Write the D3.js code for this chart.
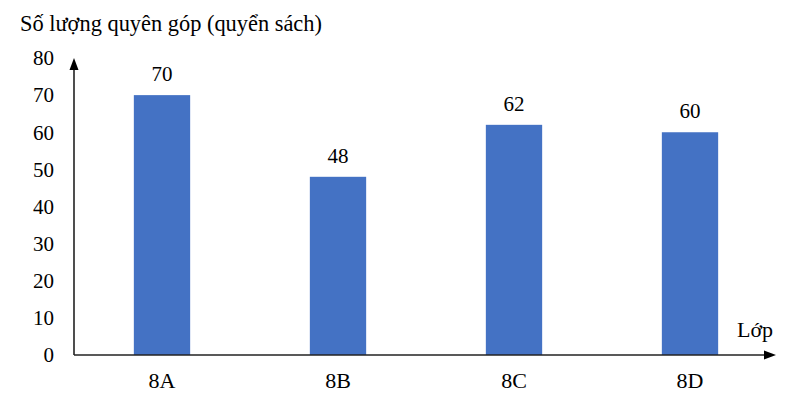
<!DOCTYPE html>
<html><head><meta charset="utf-8">
<script src="https://cdn.jsdelivr.net/npm/d3@7"></script>
<style>body{margin:0;background:#fff}svg{display:block}text{font-family:"Liberation Serif","Times New Roman",serif;fill:#000}</style>
</head><body>
<svg id="c" width="792" height="401"></svg>
<script>
const categories = ["8A", "8B", "8C", "8D"];
const values = [70, 48, 62, 60];
const yTicks = [0, 10, 20, 30, 40, 50, 60, 70, 80];
const yTitle = "Số lượng quyên góp (quyển sách)";
const xTitle = "Lớp";

const svg = d3.select("#c");
const x = d3.scaleBand().domain(categories).range([74, 778]).paddingInner(0.68).paddingOuter(0.34);
const y = d3.scaleLinear().domain([0, 80]).range([355, 58]);

// bars
svg.selectAll("rect.bar").data(values).join("rect")
  .attr("class", "bar")
  .attr("x", (d, i) => x(categories[i]))
  .attr("width", x.bandwidth())
  .attr("y", d => y(d))
  .attr("height", d => y(0) - y(d))
  .attr("fill", "#4472C4");

// value labels
svg.selectAll("text.val").data(values).join("text")
  .attr("class", "val")
  .attr("x", (d, i) => x(categories[i]) + x.bandwidth() / 2)
  .attr("y", d => y(d) - 14)
  .attr("text-anchor", "middle")
  .attr("font-size", 21)
  .text(d => d);

// y tick labels
svg.selectAll("text.yt").data(yTicks).join("text")
  .attr("class", "yt")
  .attr("x", 54)
  .attr("y", d => y(d))
  .attr("dy", "0.35em")
  .attr("text-anchor", "end")
  .attr("font-size", 21)
  .text(d => d);

// x labels
svg.selectAll("text.xt").data(categories).join("text")
  .attr("class", "xt")
  .attr("x", d => x(d) + x.bandwidth() / 2)
  .attr("y", 388)
  .attr("text-anchor", "middle")
  .attr("font-size", 22)
  .text(d => d);

// axes
const axCol = "#222";
svg.append("line").attr("x1", 74).attr("x2", 74).attr("y1", y(0)).attr("y2", 66)
  .attr("stroke", axCol).attr("stroke-width", 1.6);
svg.append("path").attr("d", `M74,58 L69.5,70 L78.5,70 Z`).attr("fill", "#000");
svg.append("line").attr("x1", 74).attr("x2", 768).attr("y1", y(0)).attr("y2", y(0))
  .attr("stroke", axCol).attr("stroke-width", 1.6);
svg.append("path").attr("d", `M776,${y(0)} L764,${y(0) - 4.5} L764,${y(0) + 4.5} Z`).attr("fill", "#000");

// titles
svg.append("text").attr("x", 20).attr("y", 31).attr("font-size", 22.4).text(yTitle);
svg.append("text").attr("x", 737).attr("y", 337).attr("font-size", 22).text(xTitle);
</script>
</body></html>
